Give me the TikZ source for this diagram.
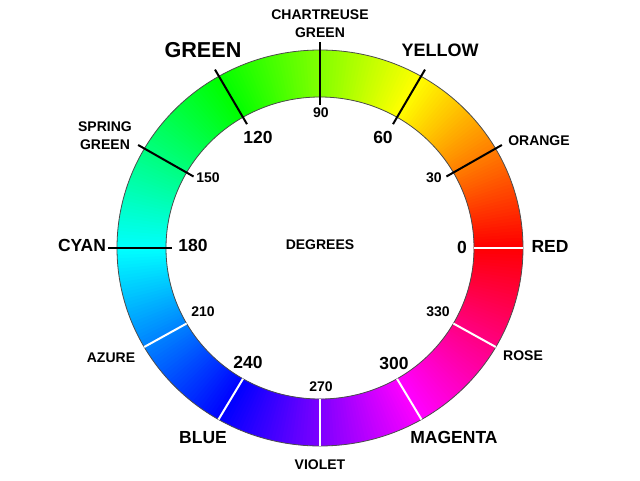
\documentclass[tikz,border=0pt]{standalone}
\usepackage{fontspec}
\setmainfont{Liberation Sans}
\begin{document}
\begin{tikzpicture}[x=1pt,y=1pt,
  lbl/.style={font=\bfseries\fontsize{14}{18}\selectfont, inner sep=0pt, align=center},
  mid/.style={font=\bfseries\fontsize{17.5}{20}\selectfont, inner sep=0pt},
  tickline/.style={line width=2pt, black},
  wtick/.style={line width=2pt, white},
  rim/.style={line width=0.8pt, black!70}]
\useasboundingbox[fill=white] (-320,-232) rectangle (320,248);
% hue ring
\foreach \a in {0,...,359}{
  \definecolor{hc}{Hsb}{\a,1,1}
  \fill[hc] (\a:203 and 198) -- (\a+1.4:203 and 198) -- (\a+1.4:154 and 151) -- (\a:154 and 151) -- cycle;
}
\draw[rim] (0,0) ellipse [x radius=203, y radius=198];
\draw[rim] (0,0) ellipse [x radius=154, y radius=151];
% black ticks
\foreach \a in {30,60,90,120,150}{
  \coordinate (i\a) at (\a:146 and 143);
  \coordinate (o\a) at (\a:210 and 206);
  \draw[tickline] (i\a) -- (o\a);
}
\coordinate (i180) at (180:148 and 145);
\coordinate (o180) at (180:212 and 208);
\draw[tickline] (i180) -- (o180);
% white ticks
\foreach \a in {0,210,240,270,300,330}{
  \coordinate (w\a) at (\a:154 and 151);
  \coordinate (v\a) at (\a:203 and 198);
  \draw[wtick] (w\a) -- (v\a);
}
% labels
\node[lbl] (chart) at (0,224) {CHARTREUSE\\GREEN};
\node[font=\bfseries\fontsize{21.6}{24}\selectfont, inner sep=0pt] (green) at (-117,198) {GREEN};
\node[font=\bfseries\fontsize{18}{21}\selectfont, inner sep=0pt] (yellow) at (120,198) {YELLOW};
\node[lbl] (n90) at (1,135) {90};
\node[mid] (n120) at (-62,111) {120};
\node[mid] (n60) at (63,111) {60};
\node[lbl] (spring) at (-215,112) {SPRING\\GREEN};
\node[lbl] (n150) at (-112,70) {150};
\node[mid] (cyan) at (-238,3) {CYAN};
\node[mid] (n180) at (-127,3) {180};
\node[lbl] (orange) at (219,107) {ORANGE};
\node[lbl] (n30) at (114,70) {30};
\node[mid] (n0) at (142,1) {0};
\node[mid] (red) at (230,2) {RED};
\node[lbl] (n330) at (118,-64) {330};
\node[lbl] (rose) at (203,-108) {ROSE};
\node[mid] (n300) at (74,-115) {300};
\node[mid] (magenta) at (134,-189) {MAGENTA};
\node[lbl] (n270) at (1,-139) {270};
\node[lbl] (violet) at (0,-217) {VIOLET};
\node[lbl] (n210) at (-117,-64) {210};
\node[lbl] (azure) at (-209,-110) {AZURE};
\node[mid] (n240) at (-72,-114) {240};
\node[mid] (blue) at (-117,-190) {BLUE};
\node[lbl] (deg) at (0,3) {DEGREES};
\end{tikzpicture}
\end{document}
